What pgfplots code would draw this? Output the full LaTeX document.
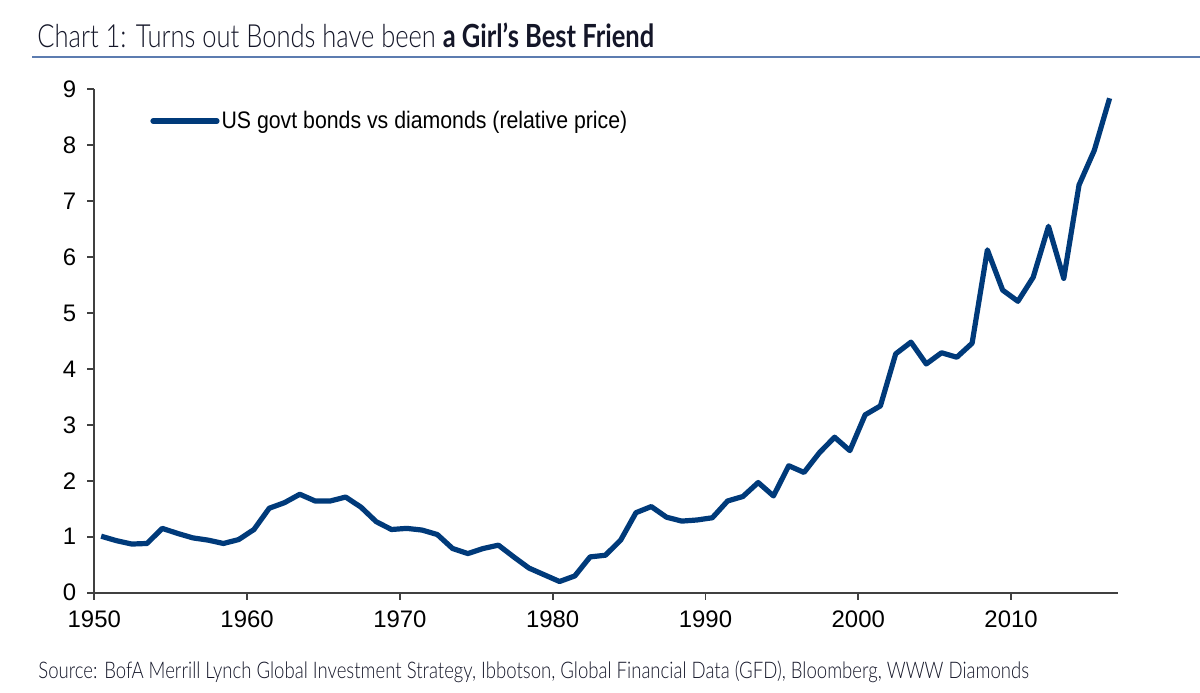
\documentclass[border=0pt]{standalone}
\usepackage{fontspec}
\setmainfont{Liberation Sans}
\newfontfamily\narrowfont{Liberation Sans}[FakeStretch=0.89]
\IfFontExistsTF{Lato Light}{%
  \newfontfamily\titlefont{Lato Light}[BoldFont={Lato Bold},FakeStretch=0.80]%
  \newfontfamily\sourcefont{Lato Light}[FakeStretch=0.81]%
}{%
  \newfontfamily\titlefont{Lato}[FakeStretch=0.80]%
  \newfontfamily\sourcefont{Lato}[FakeStretch=0.81]%
}
\usepackage{pgfplots}
\pgfplotsset{compat=1.18}
\usepackage{pgfplotstable}
\definecolor{linecol}{RGB}{0,58,122}
\definecolor{rulecol}{RGB}{92,124,176}
\definecolor{titlecol}{RGB}{20,22,40}
\pgfplotstableread{
year val
1950 1.01
1951 0.93
1952 0.87
1953 0.88
1954 1.15
1955 1.06
1956 0.98
1957 0.94
1958 0.88
1959 0.95
1960 1.13
1961 1.51
1962 1.61
1963 1.76
1964 1.64
1965 1.64
1966 1.71
1967 1.53
1968 1.27
1969 1.13
1970 1.15
1971 1.12
1972 1.04
1973 0.79
1974 0.70
1975 0.79
1976 0.85
1977 0.64
1978 0.44
1979 0.32
1980 0.20
1981 0.30
1982 0.64
1983 0.67
1984 0.94
1985 1.43
1986 1.54
1987 1.35
1988 1.28
1989 1.30
1990 1.34
1991 1.64
1992 1.72
1993 1.97
1994 1.73
1995 2.27
1996 2.15
1997 2.50
1998 2.78
1999 2.54
2000 3.18
2001 3.34
2002 4.27
2003 4.48
2004 4.09
2005 4.29
2006 4.21
2007 4.46
2008 6.13
2009 5.41
2010 5.21
2011 5.64
2012 6.55
2013 5.62
2014 7.29
2015 7.91
2016 8.84
}\bondsdata
\begin{document}
\begin{tikzpicture}
\path[use as bounding box] (0,0) rectangle (600bp,346.5bp);
\node[anchor=base west,inner sep=0pt,text=titlecol] at (18.5bp,322.5bp)
  {\titlefont\fontsize{16}{19}\selectfont Chart 1: Turns out Bonds have been \textbf{a Girl’s Best Friend}};
\draw[rulecol,line width=1bp] (16bp,318bp) -- (600bp,318bp);
\node[anchor=base west,inner sep=0pt,text=titlecol] at (19bp,7.5bp)
  {\sourcefont\fontsize{11.5}{13}\selectfont Source: BofA Merrill Lynch Global Investment Strategy, Ibbotson, Global Financial Data (GFD), Bloomberg, WWW Diamonds};
\begin{axis}[
  at={(47.15bp,50.15bp)}, anchor=south west,
  scale only axis, width=511.85bp, height=251.7bp,
  xmin=1950, xmax=2017, ymin=0, ymax=9,
  axis x line*=bottom, axis y line*=left,
  axis line style={black!75,line width=0.9bp,-},
  xtick={1950,1960,...,2010}, ytick={0,1,...,9},
  tick align=outside, major tick length=3.5bp,
  tick style={black!75,line width=0.9bp},
  minor tick num=0,
  /pgf/number format/assume math mode=true,
  /pgf/number format/1000 sep={},
  ticklabel style={font=\fontsize{12}{14}\selectfont},
  xticklabel style={yshift=-2bp},
  yticklabel style={xshift=-2bp},
  legend style={at={(0.0544,0.937)},anchor=west,draw=none,fill=none,
    inner sep=0pt,font=\narrowfont\fontsize{12}{14}\selectfont,
    nodes={inner sep=1bp}},
  legend cell align=left,
  legend image code/.code={\draw[#1,line cap=round] (0bp,0bp) -- (32bp,0bp);},
]
\addplot[linecol,line width=2.6bp,line join=round] table[x expr=\thisrow{year}+0.45,y=val]{\bondsdata};
\addlegendentry{US govt bonds vs diamonds (relative price)}
\end{axis}
\end{tikzpicture}
\end{document}
